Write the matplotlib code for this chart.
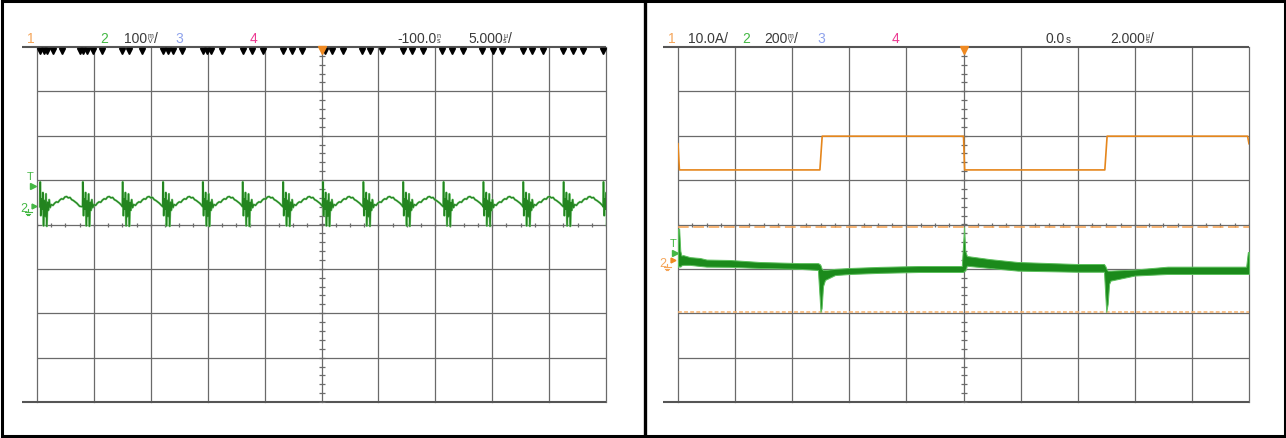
import numpy as np
import matplotlib
matplotlib.use("Agg")
import matplotlib.pyplot as plt
from matplotlib.patches import Rectangle

W, H = 1286, 439
GRID_TOP, GRID_BOTTOM = 48, 403
PX_PER_DIV_Y = (GRID_BOTTOM - GRID_TOP) / 8
HEAD_Y = 43

FONT = ["Liberation Sans Narrow", "Liberation Sans", "DejaVu Sans"]
GRID_COLOR = "#6a6a6a"
FRAME_COLOR = "#555555"
TEXT_COLOR = "#3a3a3a"
CH1, CH2, CH3, CH4 = "#f5a65b", "#45b845", "#8fa3ec", "#ec3a92"

# ---- left capture: CH2 ripple, 100 mV/div, 5 us/div
L_US_PER_DIV = 5.0
L_MV_PER_DIV = 100.0
L_CH2_GND = 0.42          # divisions above centre
ripple_starts_us = [0.25, 4.0, 7.5, 11.05, 14.55, 18.05, 21.6, 25.1,
                    28.65, 32.15, 35.7, 39.2, 42.7, 46.25, 49.75]
ripple_cycle_us = [0.00, 0.03, 0.09, 0.15, 0.21, 0.27, 0.33, 0.40, 0.47, 0.54,
                   0.61, 0.68, 0.75, 0.82, 0.90, 1.00, 1.15, 1.30, 1.45, 1.60,
                   1.75, 1.90, 2.05, 2.20, 2.35, 2.50, 2.65, 2.80, 2.95, 3.10,
                   3.25, 3.40, 3.50]
ripple_cycle_mv = [-2, 54, -22, 16, -8, 30, -45, 12, -24, 27,
                   -46, 8, -10, 14, -4, 3, 1, 6, 9, 8,
                   13, 16, 15, 20, 21, 18, 19, 14, 12, 9,
                   6, 2, -1]
edge_marks_us = [0.25, 0.6, 0.9, 1.4, 2.2, 3.8, 4.05, 4.4, 4.9, 5.7,
                 7.45, 8.1, 9.25, 11.05, 11.5, 11.95, 12.75, 14.6, 14.95, 15.3,
                 16.25, 18.1, 18.9, 19.85, 21.6, 22.4, 23.3, 25.3, 25.9, 26.9,
                 28.55, 29.25, 30.3, 32.15, 32.95, 33.9, 35.6, 36.45, 37.45, 39.1,
                 40.05, 40.85, 42.7, 43.5, 44.45, 46.2, 47.1, 48.0, 49.75]

# ---- right capture: CH1 current 10 A/div, CH2 200 mV/div, 2 us/div
R_US_PER_DIV = 2.0
R_A_PER_DIV = 10.0
R_MV_PER_DIV = 200.0
R_CH1_GND = -0.91
R_CH2_GND = -0.89
cur_us = [0.0, 0.05, 4.97, 5.05, 10.0, 10.04, 14.95, 15.03, 19.95, 20.0]
cur_a = [27.3, 21.4, 21.4, 29.0, 29.0, 21.4, 21.4, 29.0, 29.0, 27.3]
band_us = [0.00, 0.04, 0.08, 0.12, 0.18, 0.42, 0.77, 1.00, 1.82, 2.87,
           4.27, 4.90, 4.96, 4.99, 5.03, 5.08, 5.15, 5.50, 6.02, 7.07,
           8.47, 9.94, 9.99, 10.02, 10.06, 10.12, 10.92, 11.90, 13.97, 14.92,
           14.97, 15.00, 15.05, 15.10, 15.15, 16.00, 17.15, 19.90, 19.96, 20.00]
band_hi_mv = [158, 160, 60, 38, 40, 31, 27, 20, 18, 9,
              4, 4, 0, -5, -20, -27, -27, -22, -18, -13,
              -9, -9, 100, 166, 60, 36, 22, 9, 0, 0,
              -10, -20, -30, -30, -30, -25, -12, -12, 54, 54]
band_lo_mv = [-14, -10, -12, -6, -4, -4, -9, -12, -13, -18,
              -22, -27, -150, -216, -200, -100, -72, -50, -45, -40,
              -36, -36, -36, -30, -30, -8, -18, -30, -35, -35,
              -150, -216, -180, -90, -75, -52, -45, -45, -45, -45]
cursor_mv = [165, -218]

fig = plt.figure(figsize=(W / 100, H / 100), dpi=100)
bg = fig.add_axes([0, 0, 1, 1])
bg.set_xlim(0, W)
bg.set_ylim(H, 0)
bg.axis("off")
renderer = fig.canvas.get_renderer()


def panel(x0, x1, us_per_div, lead_px=15):
    ax = fig.add_axes([x0 / W, 1 - GRID_BOTTOM / H, (x1 - x0) / W,
                       (GRID_BOTTOM - GRID_TOP) / H])
    xmax = 10 * us_per_div
    ax.set_xlim(0, xmax)
    ax.set_ylim(-4, 4)
    ax.axis("off")
    for i in range(11):
        ax.axvline(i * us_per_div, color=GRID_COLOR, lw=0.9, zorder=1, clip_on=False)
    for j in range(-3, 4):
        ax.axhline(j, color=GRID_COLOR, lw=0.9, zorder=1)
    lead = lead_px / ((x1 - x0) / 10) * us_per_div
    for y in (4, -4):
        ax.plot([-lead, xmax], [y, y], color=FRAME_COLOR, lw=1.5, zorder=1,
                clip_on=False, solid_capstyle="butt")
    # minor ticks along the centre cross
    yt = np.arange(-4, 4.01, 0.2)
    ax.plot(np.full_like(yt, 5 * us_per_div), yt, ls="none", marker="_", ms=4,
            mew=0.9, color=GRID_COLOR, zorder=1)
    xt = np.arange(0, 10.01, 0.25) * us_per_div
    ax.plot(xt, np.zeros_like(xt), ls="none", marker="|", ms=3.5, mew=0.9,
            color=GRID_COLOR, zorder=1)
    # trigger position
    ax.plot([5 * us_per_div], [4 - 3 / PX_PER_DIV_Y], marker="v", ms=6,
            color="#f08a22", clip_on=False, zorder=5)
    return ax


def put(x, s, color=TEXT_COLOR, size=10, y=HEAD_Y):
    t = bg.text(x, y, s, color=color, fontsize=size, family=FONT,
                va="baseline", ha="left")
    return x + t.get_window_extent(renderer).width


def stacked(x, top, bottom, color=TEXT_COLOR):
    a = put(x, top, color, 5, y=HEAD_Y - 5)
    b = put(x, bottom, color, 5, y=HEAD_Y)
    return max(a, b)


def ground(x, y, color):
    bg.plot([x, x], [y - 3, y], color=color, lw=0.8)
    for k, half in enumerate((3.5, 2.3, 1.1)):
        bg.plot([x - half, x + half], [y + 1.6 * k, y + 1.6 * k], color=color, lw=0.8)


# ---- left panel
axl = panel(37, 606, L_US_PER_DIV)
rt, rv = [], []
for t0 in ripple_starts_us:
    rt.extend(t0 + np.array(ripple_cycle_us))
    rv.extend(ripple_cycle_mv)
rv = np.array(rv) / L_MV_PER_DIV + L_CH2_GND
axl.plot(rt, rv, color="#6cc46c", lw=1.6, zorder=3, alpha=0.8)
axl.plot(rt, rv, color="#23841f", lw=0.9, zorder=3)
axl.plot(edge_marks_us, np.full(len(edge_marks_us), 4 - 4 / PX_PER_DIV_Y),
         ls="none", marker="v", ms=5, color="black", clip_on=False, zorder=4)

put(27, "1", CH1)
put(100, "2", CH2)
x = put(124, "100")
x = stacked(x + 0.5, "m", "V")
put(x + 0.5, "/")
put(175, "3", CH3)
put(250, "4", CH4)
x = put(397, "-100.0")
stacked(x + 0.5, "n", "s")
x = put(468, "5.000")
x = stacked(x + 0.5, "\u03bc", "s")
put(x + 0.5, "/")

put(27, "T", CH2, 8, y=180)
bg.plot([33], [187], marker=">", ms=4, color=CH2)
put(20, "2", CH2, 9, y=212)
bg.plot([34], [207], marker=">", ms=3.5, color=CH2)
ground(28, 213, CH2)

# ---- right panel
axr = panel(678, 1249, R_US_PER_DIV)
axr.plot(cur_us, np.array(cur_a) / R_A_PER_DIV + R_CH1_GND, color="#e5861c",
         lw=1.2, zorder=3)
hi = np.array(band_hi_mv) / R_MV_PER_DIV + R_CH2_GND
lo = np.array(band_lo_mv) / R_MV_PER_DIV + R_CH2_GND
axr.fill_between(band_us, lo, hi, facecolor="#1b8a1b", edgecolor="#5cbf5c",
                 lw=0.7, zorder=3)
axr.axhline(cursor_mv[0] / R_MV_PER_DIV + R_CH2_GND, color="#f4a050", lw=1.1,
            dashes=(7, 3), zorder=2)
axr.axhline(cursor_mv[1] / R_MV_PER_DIV + R_CH2_GND, color="#f6b06a", lw=1.1,
            dashes=(2.5, 1.5), zorder=2)

put(668, "1", CH1)
put(688, "10.0A/")
put(742, "2", CH2)
x = put(764, "200")
x = stacked(x + 0.5, "m", "V")
put(x + 0.5, "/")
put(817, "3", CH3)
put(892, "4", CH4)
x = put(1046, "0.0")
put(x + 0.5, "s", size=7)
x = put(1110, "2.000")
x = stacked(x + 0.5, "\u03bc", "s")
put(x + 0.5, "/")

put(670, "T", CH2, 8, y=247)
bg.plot([675], [254], marker=">", ms=4, color=CH2)
put(659, "2", CH1, 9, y=267)
bg.plot([673], [261], marker=">", ms=3.5, color="#f08a22")
ground(667, 268, CH1)

# outer frame and divider
bg.add_patch(Rectangle((1.5, 1.5), W - 3, H - 3, fill=False, lw=2.2,
                       edgecolor="black"))
bg.plot([645, 645], [0, H], color="black", lw=2.4)

fig.savefig("out.png", dpi=100)
